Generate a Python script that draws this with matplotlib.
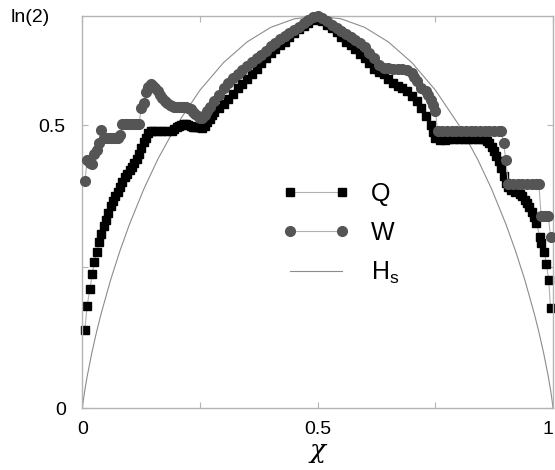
import matplotlib
matplotlib.use("Agg")
import matplotlib.pyplot as plt
from matplotlib.ticker import FixedLocator

plt.rcParams["font.family"] = ["Liberation Sans", "DejaVu Sans"]

LN2 = 0.6931

# Q series (black squares)
q_x = [0.005, 0.010, 0.016, 0.021, 0.025, 0.030, 0.036, 0.040, 0.045, 0.050,
       0.055, 0.060, 0.065, 0.070, 0.075, 0.080, 0.085, 0.090, 0.095, 0.100,
       0.105, 0.110, 0.115, 0.120, 0.125, 0.130, 0.135, 0.140, 0.145, 0.150,
       0.160, 0.170, 0.180, 0.190, 0.195, 0.200, 0.205, 0.210, 0.215, 0.220,
       0.225, 0.230, 0.235, 0.240, 0.245, 0.250, 0.255, 0.260, 0.265, 0.270,
       0.275, 0.280, 0.290, 0.300, 0.310, 0.320, 0.330, 0.340, 0.350, 0.360,
       0.370, 0.380, 0.390, 0.400, 0.410, 0.420, 0.430, 0.440, 0.450, 0.460,
       0.470, 0.480, 0.490, 0.500, 0.510, 0.520, 0.530, 0.540, 0.550, 0.560,
       0.570, 0.580, 0.590, 0.600, 0.610, 0.620, 0.630, 0.640, 0.650, 0.660,
       0.670, 0.680, 0.690, 0.700, 0.710, 0.720, 0.730, 0.740, 0.745, 0.750,
       0.760, 0.770, 0.780, 0.790, 0.800, 0.810, 0.820, 0.830, 0.840, 0.850,
       0.855, 0.860, 0.865, 0.870, 0.875, 0.880, 0.885, 0.890, 0.895, 0.900,
       0.905, 0.910, 0.920, 0.930, 0.935, 0.940, 0.945, 0.950, 0.955, 0.960,
       0.965, 0.972, 0.975, 0.982, 0.986, 0.991, 0.995]
q_y = [0.138, 0.181, 0.211, 0.237, 0.259, 0.276, 0.294, 0.308, 0.322, 0.333,
       0.345, 0.357, 0.366, 0.374, 0.382, 0.391, 0.399, 0.408, 0.414, 0.420,
       0.427, 0.434, 0.441, 0.450, 0.460, 0.470, 0.478, 0.486, 0.490, 0.490,
       0.490, 0.490, 0.490, 0.490, 0.493, 0.496, 0.499, 0.501, 0.503, 0.503,
       0.500, 0.498, 0.497, 0.496, 0.496, 0.496, 0.495, 0.498, 0.505, 0.511,
       0.518, 0.523, 0.530, 0.537, 0.547, 0.556, 0.565, 0.573, 0.582, 0.591,
       0.600, 0.610, 0.619, 0.627, 0.635, 0.641, 0.648, 0.656, 0.663, 0.670,
       0.676, 0.681, 0.686, 0.690, 0.685, 0.678, 0.672, 0.664, 0.656, 0.648,
       0.642, 0.634, 0.626, 0.619, 0.610, 0.600, 0.595, 0.590, 0.582, 0.575,
       0.570, 0.566, 0.560, 0.552, 0.543, 0.530, 0.516, 0.500, 0.488, 0.477,
       0.474, 0.474, 0.475, 0.475, 0.475, 0.475, 0.476, 0.476, 0.476, 0.476,
       0.475, 0.472, 0.468, 0.462, 0.455, 0.446, 0.436, 0.424, 0.410, 0.397,
       0.390, 0.386, 0.382, 0.378, 0.374, 0.368, 0.362, 0.355, 0.347, 0.337,
       0.327, 0.303, 0.291, 0.276, 0.255, 0.226, 0.176]

# W series (grey circles)
w_x = [0.005, 0.010, 0.015, 0.020, 0.025, 0.030, 0.035, 0.040, 0.045, 0.050,
       0.055, 0.060, 0.065, 0.070, 0.075, 0.080, 0.085, 0.090, 0.095, 0.100,
       0.105, 0.110, 0.115, 0.120, 0.125, 0.130, 0.135, 0.140, 0.145, 0.150,
       0.155, 0.160, 0.165, 0.170, 0.175, 0.180, 0.185, 0.190, 0.195, 0.200,
       0.205, 0.210, 0.215, 0.220, 0.225, 0.230, 0.235, 0.240, 0.245, 0.250,
       0.255, 0.260, 0.265, 0.270, 0.280, 0.290, 0.300, 0.310, 0.320, 0.330,
       0.340, 0.350, 0.360, 0.370, 0.380, 0.390, 0.400, 0.410, 0.420, 0.430,
       0.440, 0.450, 0.460, 0.470, 0.480, 0.490, 0.500, 0.510, 0.520, 0.530,
       0.540, 0.550, 0.560, 0.570, 0.580, 0.590, 0.600, 0.610, 0.620, 0.630,
       0.640, 0.650, 0.660, 0.670, 0.680, 0.690, 0.700, 0.705, 0.710, 0.720,
       0.730, 0.735, 0.740, 0.745, 0.750, 0.755, 0.765, 0.775, 0.785, 0.795,
       0.805, 0.815, 0.825, 0.835, 0.845, 0.855, 0.865, 0.875, 0.885, 0.890,
       0.895, 0.900, 0.905, 0.915, 0.925, 0.935, 0.945, 0.955, 0.965, 0.970,
       0.975, 0.980, 0.985, 0.990, 0.995]
w_y = [0.401, 0.438, 0.434, 0.431, 0.450, 0.456, 0.468, 0.492, 0.478, 0.478,
       0.478, 0.478, 0.478, 0.478, 0.478, 0.483, 0.502, 0.502, 0.502, 0.502,
       0.502, 0.502, 0.502, 0.502, 0.530, 0.540, 0.558, 0.568, 0.573, 0.570,
       0.565, 0.560, 0.553, 0.548, 0.543, 0.540, 0.536, 0.534, 0.533, 0.533,
       0.533, 0.533, 0.533, 0.533, 0.530, 0.528, 0.524, 0.520, 0.516, 0.513,
       0.512, 0.518, 0.526, 0.532, 0.543, 0.553, 0.565, 0.575, 0.583, 0.590,
       0.598, 0.605, 0.612, 0.618, 0.625, 0.632, 0.640, 0.646, 0.652, 0.658,
       0.663, 0.668, 0.674, 0.680, 0.686, 0.691, 0.694, 0.690, 0.684, 0.678,
       0.672, 0.666, 0.661, 0.656, 0.650, 0.645, 0.638, 0.628, 0.618, 0.606,
       0.602, 0.601, 0.600, 0.600, 0.600, 0.598, 0.592, 0.585, 0.578, 0.566,
       0.560, 0.554, 0.545, 0.536, 0.526, 0.489, 0.489, 0.489, 0.489, 0.489,
       0.489, 0.489, 0.489, 0.489, 0.489, 0.489, 0.489, 0.489, 0.489, 0.489,
       0.468, 0.438, 0.396, 0.396, 0.396, 0.396, 0.396, 0.396, 0.396, 0.396,
       0.340, 0.340, 0.340, 0.340, 0.303]

# Hs curve
hs_x = [0.0, 0.001, 0.002, 0.005, 0.01, 0.02, 0.03, 0.04, 0.06, 0.08, 0.10,
        0.13, 0.16, 0.20, 0.25, 0.30, 0.35, 0.40, 0.45, 0.50, 0.55, 0.60,
        0.65, 0.70, 0.75, 0.80, 0.84, 0.87, 0.90, 0.92, 0.94, 0.96, 0.97,
        0.98, 0.99, 0.995, 0.998, 0.999, 1.0]
hs_y = [0.0, 0.0079, 0.0144, 0.0315, 0.0560, 0.0980, 0.1347, 0.1679, 0.2270,
        0.2788, 0.3251, 0.3864, 0.4397, 0.5004, 0.5623, 0.6109, 0.6474,
        0.6730, 0.6881, 0.6931, 0.6881, 0.6730, 0.6474, 0.6109, 0.5623,
        0.5004, 0.4397, 0.3864, 0.3251, 0.2788, 0.2270, 0.1679, 0.1347,
        0.0980, 0.0560, 0.0315, 0.0144, 0.0079, 0.0]

frame_col = "#b4b4b4"

fig = plt.figure(figsize=(5.55, 4.7), dpi=100)
ax = fig.add_axes([0.1486, 0.1319, 0.8477, 0.834])

ax.plot(hs_x, hs_y, color="#8c8c8c", lw=0.8, zorder=1, label="H$_\\mathregular{s}$")
ax.plot(q_x, q_y, color="#b0b0b0", lw=0.8, marker="s", ms=5.8, mfc="black",
        mec="black", zorder=2, clip_on=False, label="Q")
ax.plot(w_x, w_y, color="#b0b0b0", lw=0.8, marker="o", ms=7, mfc="#555555",
        mec="#555555", zorder=3, clip_on=False, label="W")

ax.set_xlim(0, 1)
ax.set_ylim(0, LN2)

ax.xaxis.set_major_locator(FixedLocator([0, 0.5, 1]))
ax.xaxis.set_minor_locator(FixedLocator([0.25, 0.75]))
ax.yaxis.set_major_locator(FixedLocator([0, 0.5]))
ax.yaxis.set_minor_locator(FixedLocator([0.25]))
ax.set_xticklabels(["0", "0.5", "1"])
ax.set_yticklabels(["0", "0.5"])
ax.tick_params(which="both", direction="in", top=True, right=True,
               color=frame_col, width=0.8, labelsize=14)
ax.tick_params(which="both", length=4)
ax.tick_params(axis="x", pad=9)
ax.tick_params(axis="y", pad=12)
ax.get_xticklabels()[-1].set_horizontalalignment("right")
for s in ax.spines.values():
    s.set_color(frame_col)
    s.set_linewidth(1.0)

fig.text(11 / 555, 1 - 17 / 470, "ln(2)", fontsize=14, ha="left", va="center")
ax.set_xlabel("χ", fontsize=19, family="DejaVu Serif", style="italic", labelpad=0)

handles, labels = ax.get_legend_handles_labels()
order = [1, 2, 0]
ax.legend([handles[i] for i in order], [labels[i] for i in order],
          loc="upper left", bbox_to_anchor=(0.425, 0.577), frameon=False,
          fontsize=18, numpoints=2, handlelength=2.7, handletextpad=0.85,
          labelspacing=0.6, borderpad=0, borderaxespad=0)

fig.savefig("out.png", dpi=100)
